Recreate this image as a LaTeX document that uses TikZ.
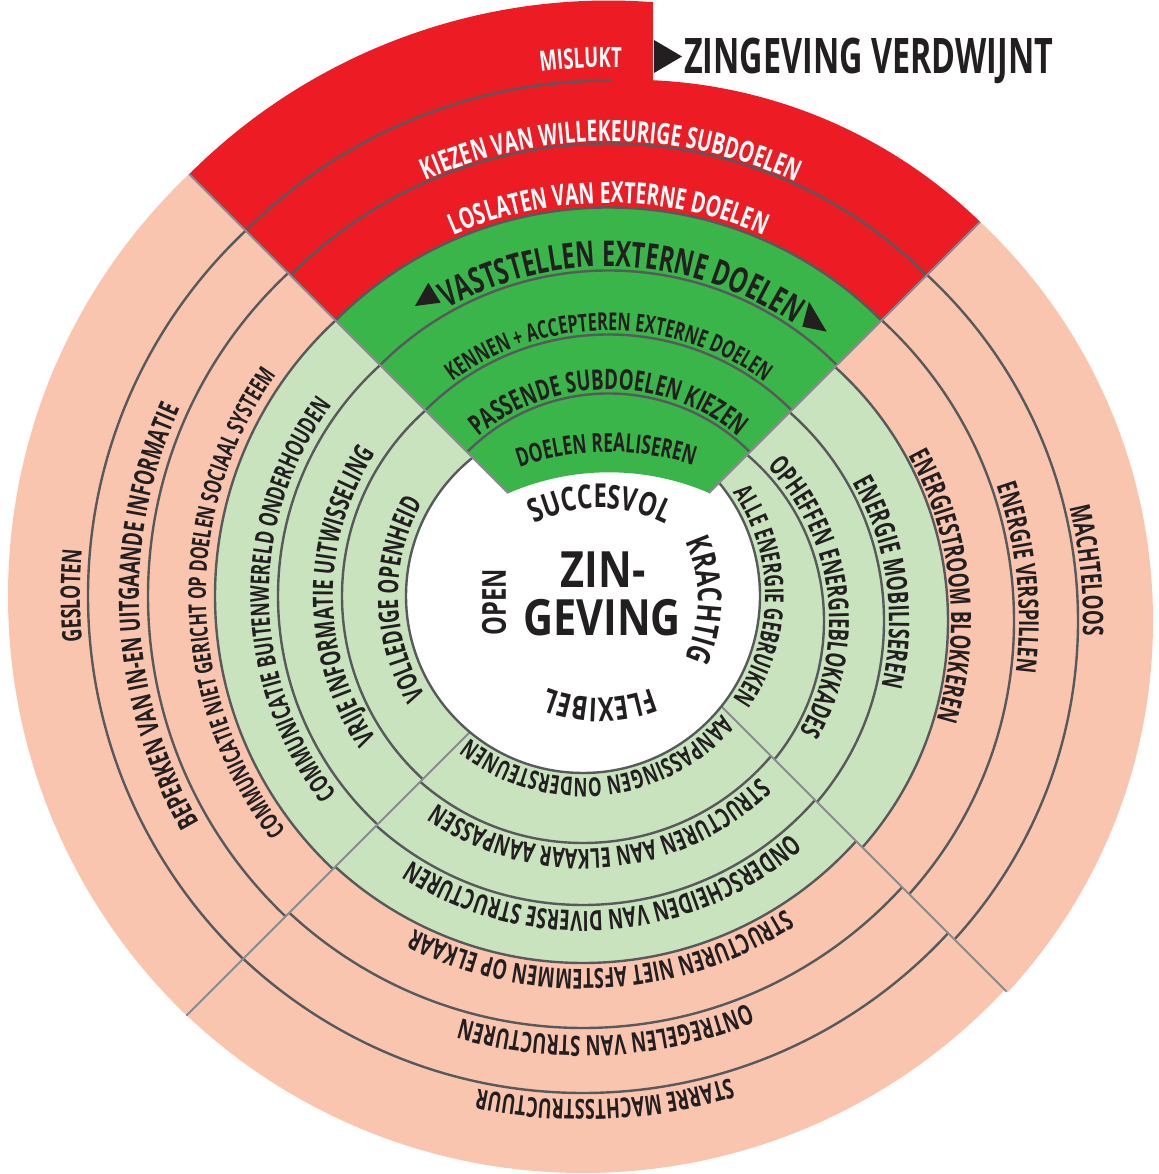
\documentclass[tikz,border=0pt]{standalone}
\usepackage{fontspec}
\setmainfont{Open Sans}
\newfontfamily\rf{Open Sans}[FakeStretch=0.66]
\newfontfamily\cf{Open Sans}[FakeStretch=0.72]
\newfontfamily\zf{Open Sans}[FakeStretch=0.83]
\usetikzlibrary{calc,decorations.text}
\definecolor{pinkc}{HTML}{F9C5AF}
\definecolor{lgreen}{HTML}{C8E3BE}
\definecolor{dgreen}{HTML}{3AB54A}
\definecolor{redc}{HTML}{ED1C24}
\definecolor{ringc}{HTML}{58595B}
\definecolor{quadc}{HTML}{8A8B8D}
\definecolor{inkc}{HTML}{231F20}
\newcommand\fR[1]{\rf\bfseries\fontsize{#1}{#1}\selectfont}
\newcommand\fC[1]{\cf\bfseries\fontsize{#1}{#1}\selectfont}
\newcommand\arctext[6]{%
  \pgfmathsetmacro\myA{#3+#4}\pgfmathsetmacro\myB{#3-#4}%
  \path[decorate,decoration={text along path,text align=center,text={|#5|#6}}]
    ($(#1)+(\myA:#2)$) arc[start angle=\myA,end angle=\myB,radius=#2];%
}
\tikzset{
  rline/.style={draw=ringc,line width=2.4},
  qline/.style={draw=quadc,line width=2},
}
\begin{document}
\begin{tikzpicture}[x=1pt,y=1pt]
\useasboundingbox (0,0) rectangle (1158,1174);
\coordinate (O1) at (583,578);
\coordinate (OL) at (590,578);
\coordinate (OB) at (583,578);
\coordinate (OR) at (606,553);
\coordinate (O2) at (608.5,580.5);
\coordinate (G0) at (609,449);
\coordinate (CR) at (630,592);
\coordinate (CS) at (600,524);
\coordinate (CK) at (560,574);
\coordinate (CF) at (600,614);

% left quadrant
\begin{scope}
\clip (O2) -- ($(O2)+(135:1200)$) -- ($(O2)+(225:1200)$) -- cycle;
\fill[pinkc] (OL) circle[radius=582];
\fill[lgreen] (OL) circle[radius=375];
\foreach \r in {248,312,375,442,502} \draw[rline] (OL) circle[radius=\r];
\end{scope}
% bottom quadrant
\begin{scope}
\clip (O2) -- ($(O2)+(225:1200)$) -- ($(O2)+(315:1200)$) -- cycle;
\fill[pinkc] (OB) circle[radius=577];
\fill[lgreen] (OB) circle[radius=367];
\foreach \r in {247,309,367,432,497} \draw[rline] (OB) circle[radius=\r];
\end{scope}
% right quadrant
\begin{scope}
\clip (O2) -- ($(O2)+(315:1200)$) -- ($(O2)+(45:1200)$) -- cycle;
\fill[pinkc] (OR) circle[radius=547];
\fill[lgreen] (OR) circle[radius=342];
\foreach \r in {218,278,342,408,472} \draw[rline] (OR) circle[radius=\r];
\end{scope}
% lower dividing lines
\draw[qline] (O2) -- ($(O2)+(225:597)$);
\draw[qline] (O2) -- ($(O2)+(315:563)$);
% white centre
\fill[white] (O1) circle[radius=177];
\draw[rline] (O1) circle[radius=177];
% top quadrant: red part
\fill[redc] ($(O2)+(135:386)$) -- ($(O2)+(135:593)$) arc[start angle=135,end angle=85.7,radius=593]
  -- ($(CR)+(87.4:502.3)$) arc[start angle=87.4,end angle=45.8,radius=502.3]
  -- ($(O2)+(45:386)$) arc[start angle=45,end angle=135,radius=386] -- cycle;
% top quadrant: green part
\fill[dgreen] ($(O2)+(135:386)$) arc[start angle=135,end angle=45,radius=386]
  -- ($(O2)+(45:142)$) -- ($(G0)+(66.7:252.7)$) arc[start angle=66.7,end angle=113.5,radius=252.7]
  -- ($(O2)+(135:142)$) -- cycle;
\foreach \r in {200,259,323,386,450} \draw[rline] ($(O2)+(135:\r)$) arc[start angle=135,end angle=45,radius=\r];
\draw[rline] ($(O2)+(135:513)$) arc[start angle=135,end angle=89.6,radius=513];
% upper dividing lines
\draw[qline] ($(O2)+(135:142)$) -- ($(O2)+(135:593)$);
\draw[qline] ($(O2)+(45:142)$) -- ($(O2)+(45:525.5)$);

% triangles
\fill[inkc] (415,868) -- (440.7,871.3) -- (428.3,891.3) -- cycle;
\fill[inkc] (809,872.3) -- (802.3,847.3) -- (826.7,842.3) -- cycle;
\fill[inkc] (654,1134) -- (654,1101) -- (682,1117.5) -- cycle;
\node[anchor=base west,inner sep=0,font=\fR{49},text=inkc] (title) at (684,1100) {ZINGEVING VERDWIJNT};

% top texts
\arctext{O2}{526}{93}{15}{\fR{28}\color{white}}{MISLUKT}
\arctext{O2}{452}{89.7}{50}{\fR{29.4}\color{white}}{KIEZEN VAN WILLEKEURIGE SUBDOELEN}
\arctext{O2}{390.5}{90}{50}{\fR{29.3}\color{white}}{LOSLATEN VAN EXTERNE DOELEN}
\arctext{O2}{327}{87.5}{55}{\fR{35.5}\color{inkc}}{VASTSTELLEN EXTERNE DOELEN}
\arctext{O2}{263}{90}{60}{\fR{24.6}\color{inkc}}{KENNEN + ACCEPTEREN EXTERNE DOELEN}
\arctext{O2}{204}{90}{60}{\fR{28.3}\color{inkc}}{PASSENDE SUBDOELEN KIEZEN}
\arctext{G0}{273}{90.6}{30}{\fR{26.2}\color{inkc}}{DOELEN REALISEREN}
% left texts
\arctext{OL}{510}{180}{40}{\fR{27}\color{inkc}}{GESLOTEN}
\arctext{OL}{451}{182.8}{60}{\fR{28}\color{inkc}}{BEPERKEN VAN IN-EN UITGAANDE INFORMATIE}
\arctext{OL}{384}{181.2}{60}{\fR{24.5}\color{inkc}}{COMMUNICATIE NIET GERICHT OP DOELEN SOCIAAL SYSTEEM}
\arctext{OL}{321}{180.7}{60}{\fR{26}\color{inkc}}{COMMUNICATIE BUITENWERELD ONDERHOUDEN}
\arctext{OL}{257}{180}{60}{\fR{28}\color{inkc}}{VRIJE INFORMATIE UITWISSELING}
\arctext{OL}{192}{181}{60}{\fR{28}\color{inkc}}{VOLLEDIGE OPENHEID}
% bottom texts
\arctext{O1}{182}{-84.5}{70}{\fR{26}\color{inkc}}{AANPASSINGEN ONDERSTEUNEN}
\arctext{OB}{253}{-85.5}{60}{\fR{27.4}\color{inkc}}{STRUCTUREN AAN ELKAAR AANPASSEN}
\arctext{OB}{315}{-85.9}{60}{\fR{28}\color{inkc}}{ONDERSCHEIDEN VAN DIVERSE STRUCTUREN}
\arctext{OB}{373}{-87}{60}{\fR{27.6}\color{inkc}}{STRUCTUREN NIET AFSTEMMEN OP ELKAAR}
\arctext{OB}{440}{-87}{50}{\fR{28}\color{inkc}}{ONTREGELEN VAN STRUCTUREN}
\arctext{OB}{504}{-87.5}{40}{\fR{27.5}\color{inkc}}{STARRE MACHTSSTRUCTUUR}
% right texts
\arctext{O1}{182}{0}{70}{\fR{26}\color{inkc}}{ALLE ENERGIE GEBRUIKEN}
\arctext{OR}{223}{7}{60}{\fR{27.8}\color{inkc}}{OPHEFFEN ENERGIEBLOKKADES}
\arctext{OR}{283}{8}{60}{\fR{28.4}\color{inkc}}{ENERGIE MOBILISEREN}
\arctext{OR}{345}{6}{60}{\fR{28}\color{inkc}}{ENERGIESTROOM BLOKKEREN}
\arctext{OR}{413}{6}{50}{\fR{27.6}\color{inkc}}{ENERGIE VERSPILLEN}
\arctext{OR}{477}{6}{40}{\fR{28.4}\color{inkc}}{MACHTELOOS}
% centre
\arctext{CS}{142}{90}{50}{\fC{33}\color{inkc}}{SUCCESVOL}
\arctext{CK}{138}{0}{60}{\fC{33}\color{inkc}}{KRACHTIG}
\arctext{CF}{138}{-90}{60}{\fC{33}\color{inkc}}{FLEXIBEL}
\node[rotate=90,inner sep=0,font=\fC{33},text=inkc] (open) at (494,572) {OPEN};
\node[inner sep=0,font=\zf\bfseries\fontsize{50}{50}\selectfont,text=inkc] (zin) at (603,604) {ZIN-};
\node[inner sep=0,font=\zf\bfseries\fontsize{50}{50}\selectfont,text=inkc] (geving) at (602,556) {GEVING};
\end{tikzpicture}
\end{document}
